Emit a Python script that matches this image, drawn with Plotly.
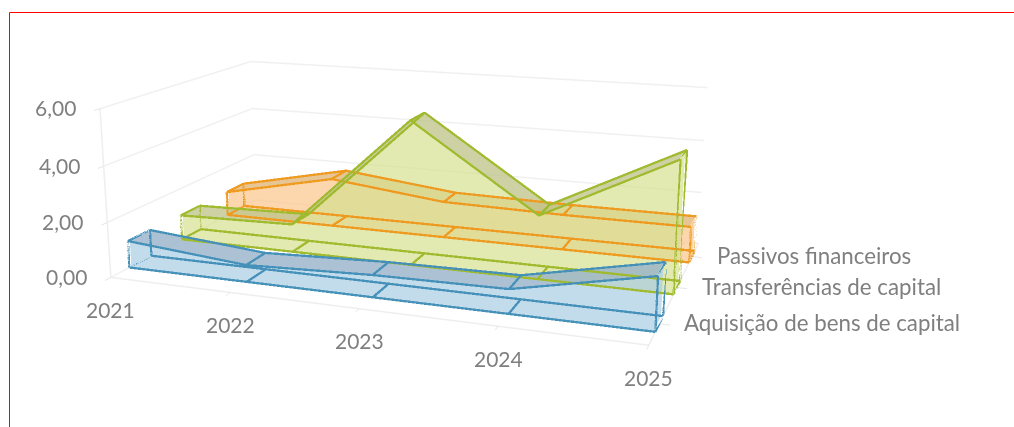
import plotly.graph_objects as go

W, H = 1014, 427
years = [2021, 2022, 2023, 2024, 2025]
series = ["Aquisição de bens de capital", "Transferências de capital", "Passivos financeiros"]
blue = [0.99, 0.61, 0.78, 0.84, 1.81]
green = [0.96, 1.06, 5.31, 2.30, 4.65]
orange = [0.97, 1.92, 1.41, 1.34, 1.34]
z_ticks = [0, 2, 4, 6]
z_labels = ["0,00", "2,00", "4,00", "6,00"]
vals = [blue, green, orange]
centers = [0.52, 1.52, 2.52]
half = 0.2
inset = 0.012
inset_y = 0.012

line_colors = ["#4590b8", "#a0ba2e", "#ee9a1f"]
fill_colors = ["#a9cde3", "#d5e08f", "#fbc58a"]
top_colors = ["#8fa9c0", "#b8bb88", "#d9b070"]

L = dict(ambient=1, diffuse=0, specular=0, fresnel=0, roughness=1)

def ribbon_mesh(val, c, fill, top):
    y0, y1 = c - half + inset_y, c + half - inset_y
    xs, ys, zs = [], [], []
    n = len(years)
    for j, (x, v) in enumerate(zip(years, val)):
        xm = x + (inset if j == 0 else -inset if j == n - 1 else 0)
        xs += [xm] * 4
        ys += [y0, y1, y0, y1]
        zs += [0, 0, v, v]
    I, J, K, tI, tJ, tK = [], [], [], [], [], []
    for i in range(n - 1):
        a = 4 * i
        b = a + 4
        I += [a, a + 2, a + 1, a + 3, a, a + 1]
        J += [b, b, b + 1, b + 1, b, b]
        K += [a + 2, b + 2, a + 3, b + 3, a + 1, b + 1]
        tI += [a + 2, a + 3]
        tJ += [b + 2, b + 2]
        tK += [a + 3, b + 3]
    for a in (0, 4 * (n - 1)):
        I += [a, a + 1]
        J += [a + 1, a + 3]
        K += [a + 2, a + 2]
    return [
        go.Mesh3d(x=xs, y=ys, z=zs, i=I, j=J, k=K, color=fill, opacity=.45, lighting=L, hoverinfo="skip", flatshading=True),
        go.Mesh3d(x=xs, y=ys, z=zs, i=tI, j=tJ, k=tK, color=top, opacity=.6, lighting=L, hoverinfo="skip", flatshading=True),
    ]

def ribbon_lines(val, c, col):
    y0, y1 = c - half, c + half
    lx, ly, lz = [], [], []
    def seg(P):
        for q in P:
            lx.append(q[0]); ly.append(q[1]); lz.append(q[2])
        lx.append(None); ly.append(None); lz.append(None)
    for yy in (y0, y1):
        seg([(x, yy, v) for x, v in zip(years, val)])
        seg([(years[0], yy, 0), (years[-1], yy, 0)])
    for j, (x, v) in enumerate(zip(years, val)):
        seg([(x, y0, v), (x, y1, v)])
        seg([(x, y0, 0), (x, y1, 0)])
        if j in (0, len(years) - 1):
            seg([(x, y0, 0), (x, y0, v)])
            seg([(x, y1, 0), (x, y1, v)])
    return go.Scatter3d(x=lx, y=ly, z=lz, mode="lines", opacity=.99, line=dict(color=col, width=4.6), hoverinfo="skip", showlegend=False)

fig = go.Figure()
for k in (2, 1, 0):
    for t in ribbon_mesh(vals[k], centers[k], fill_colors[k], top_colors[k]):
        fig.add_trace(t)
for k in (2, 1, 0):
    fig.add_trace(ribbon_lines(vals[k], centers[k], line_colors[k]))

ax = dict(showbackground=False, showspikes=False, zeroline=False, title="", linecolor="#eeeeee", linewidth=3, showline=True,
          showticklabels=False, ticks="outside", tickcolor="#e6e6e6", ticklen=8, tickwidth=2)

font = dict(family="Lato", size=21, color="#7f7f7f")
font_series = dict(family="Lato", size=22.3, color="#7f7f7f")
annots = []
for y in years:
    annots.append(dict(x=y, y=0, z=0, text=str(y), showarrow=False, xanchor="center", yanchor="middle", yshift=-32, font=font))
for z, t in zip(z_ticks, z_labels):
    annots.append(dict(x=years[0], y=0, z=z, text=t, showarrow=False, xanchor="right", yanchor="middle", xshift=-22, yshift=1, font=font))
for c, s in zip(centers, series):
    annots.append(dict(x=years[-1], y=c, z=0, text=s, showarrow=False, xanchor="left", yanchor="middle", xshift=23, yshift=1, font=font_series))

# the camera needs a long lens: the scene is larger than the window and centred on the picture's principal point
Fw, Fh, cx, cy = 1194, 1034, 417, 180
left, top = cx - Fw // 2, cy - Fh // 2
PX = lambda x: (x - left) / Fw
PY = lambda y: 1 - (y - top) / Fh
red = dict(color="#ff0000", width=1)
fig.update_layout(
    width=Fw, height=Fh, margin=dict(l=0, r=0, t=0, b=0), paper_bgcolor="white", showlegend=False,
    shapes=[
        dict(type="line", xref="paper", yref="paper", x0=PX(9.5), x1=PX(W), y0=PY(12.5), y1=PY(12.5), line=red),
        dict(type="line", xref="paper", yref="paper", x0=PX(9.5), x1=PX(9.5), y0=PY(12.5), y1=PY(H), line=red),
    ],
    scene=dict(
        domain=dict(x=[0, 1], y=[0, 1]), aspectmode="manual", aspectratio=dict(x=1, y=0.5876, z=0.3195),
        camera=dict(eye=dict(x=0.7890, y=-2.1757, z=0.5853), center=dict(x=0, y=0, z=0), up=dict(x=-0.0709, y=0.1988, z=1)),
        xaxis=dict(ax, range=[years[0], years[-1]], tickvals=years, showgrid=False),
        yaxis=dict(ax, range=[0, 3], tickvals=centers, showgrid=False),
        zaxis=dict(ax, range=[0, 6], tickvals=z_ticks, showgrid=True, gridcolor="#f0f0f0", gridwidth=3),
        annotations=annots,
    ),
)
post = (f"document.body.style.margin='0';document.documentElement.style.overflow='hidden';document.body.style.overflow='hidden';"
        f"var g=document.querySelector('.plotly-graph-div');g.style.position='absolute';g.style.left='{left}px';g.style.top='{top}px';")
fig.write_html("out.html", config=dict(displayModeBar=False), post_script=post)
